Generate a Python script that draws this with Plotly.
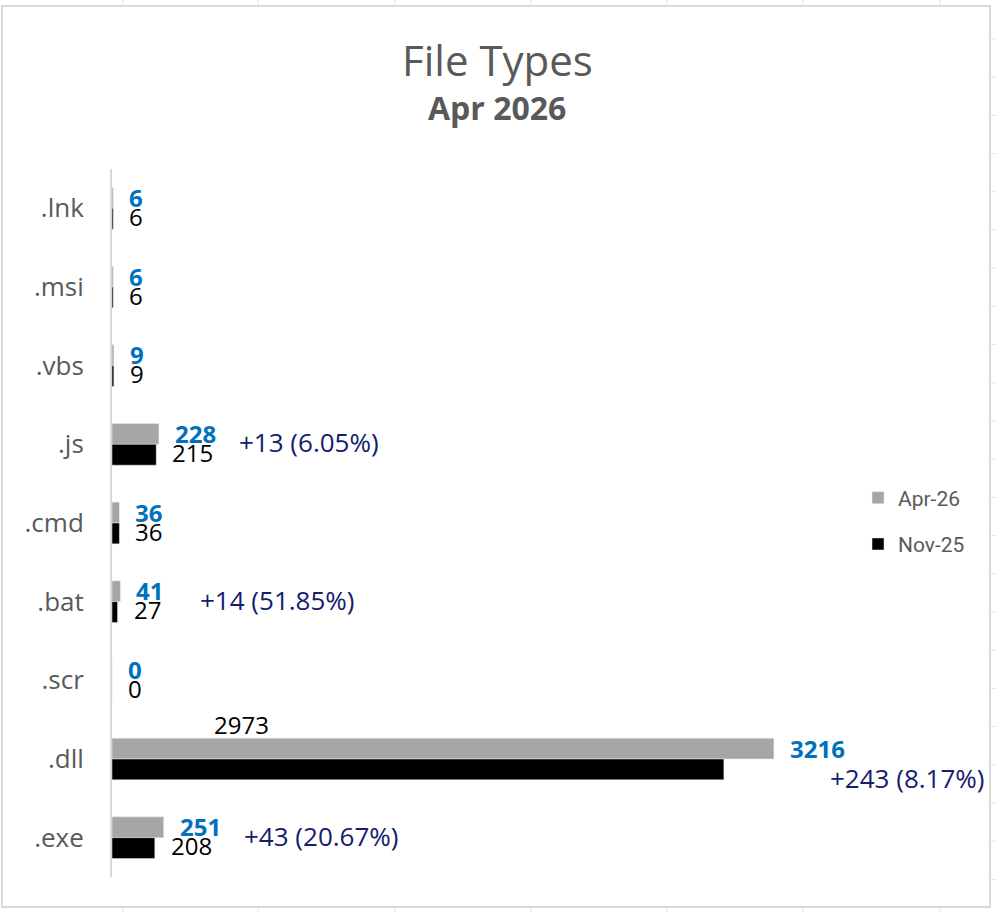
import plotly.graph_objects as go

# data, read top to bottom as in the chart
file_types = ['.lnk', '.msi', '.vbs', '.js', '.cmd', '.bat', '.scr', '.dll', '.exe']
apr_26 = [6, 6, 9, 228, 36, 41, 0, 3216, 251]
nov_25 = [6, 6, 9, 215, 36, 27, 0, 2973, 208]
series_names = ['Apr-26', 'Nov-25']

W, H = 996, 912
L, R, T, B = 112, 6, 169, 35
X_MAX = 4266  # axis max, so that the plot area reaches the chart's right edge

FONT = '"Open Sans", "Segoe UI", sans-serif'
GREY_TXT = '#595959'
BLUE = '#0070C0'
NAVY = '#14206E'


def px_x(px):
    return (px - L) / (W - L - R)


def px_y(py):
    return (H - B - py) / (H - T - B)


fig = go.Figure()
fig.add_trace(go.Bar(y=file_types, x=apr_26, orientation='h', name=series_names[0],
                     marker_color='#A6A6A6', legendgroup='a'))
fig.add_trace(go.Bar(y=file_types, x=nov_25, orientation='h', name=series_names[1],
                     marker_color='#000000', legendgroup='b'))

ann = []
# value labels
nov_moved = {'.dll': (100, 35)}  # excel label dragged above the bars
for cat, a, n in zip(file_types, apr_26, nov_25):
    ann.append(dict(x=a, y=cat, xref='x', yref='y', text='<b>%d</b>' % a, showarrow=False,
                    xanchor='left', yanchor='middle', xshift=14, yshift=11,
                    font=dict(family=FONT, size=24, color=BLUE)))
    if cat in nov_moved:
        xs, ys = nov_moved[cat]
        ann.append(dict(x=0, y=cat, xref='x', yref='y', text=str(n), showarrow=False,
                        xanchor='left', yanchor='middle', xshift=xs, yshift=ys,
                        font=dict(family=FONT, size=24, color='black')))
    else:
        ann.append(dict(x=n, y=cat, xref='x', yref='y', text=str(n), showarrow=False,
                        xanchor='left', yanchor='middle', xshift=14, yshift=-8,
                        font=dict(family=FONT, size=24, color='black')))
    # change labels
    d = a - n
    if d != 0:
        txt = '+%d (%.2f%%)' % (d, d / n * 100)
        xs, ys = (54, -19) if cat == '.dll' else (78, 2)
        ann.append(dict(x=a, y=cat, xref='x', yref='y', text=txt, showarrow=False,
                        xanchor='left', yanchor='middle', xshift=xs, yshift=ys,
                        font=dict(family=FONT, size=26, color=NAVY)))

# titles
ann.append(dict(x=px_x(497), y=px_y(60), xref='paper', yref='paper', text='File Types',
                showarrow=False, xanchor='center', yanchor='middle',
                font=dict(family=FONT, size=42, color=GREY_TXT)))
ann.append(dict(x=px_x(497), y=px_y(108), xref='paper', yref='paper', text='<b>Apr 2026</b>',
                showarrow=False, xanchor='center', yanchor='middle',
                font=dict(family=FONT, size=32, color=GREY_TXT)))

# chart border + sheet gridlines peeking out around it
shapes = [dict(type='rect', xref='paper', yref='paper',
               x0=px_x(2), x1=px_x(990), y0=px_y(907), y1=px_y(6),
               line=dict(color='#D9D9D9', width=2), layer='below')]
for gx in [123, 258, 395, 531, 667, 803, 940]:
    for y0, y1 in [(0, 5), (908, 912)]:
        shapes.append(dict(type='line', xref='paper', yref='paper',
                           x0=px_x(gx), x1=px_x(gx), y0=px_y(y0), y1=px_y(y1),
                           line=dict(color='#E3E3E3', width=1)))
gy = 39.0
while gy < 912:
    shapes.append(dict(type='line', xref='paper', yref='paper',
                       x0=px_x(991), x1=px_x(996), y0=px_y(gy), y1=px_y(gy),
                       line=dict(color='#E3E3E3', width=1)))
    gy += 38.2

fig.update_layout(
    width=W, height=H,
    margin=dict(l=L, r=R, t=T, b=B, autoexpand=False),
    paper_bgcolor='white', plot_bgcolor='white',
    barmode='group', bargap=0.47, bargroupgap=0,
    showlegend=True,
    legend=dict(x=px_x(858), y=px_y(521),
                xanchor='left', yanchor='middle', traceorder='grouped',
                tracegroupgap=16, bgcolor='rgba(0,0,0,0)',
                font=dict(family='"Liberation Sans Narrow", "Arial Narrow", Roboto, sans-serif',
                          size=21, color=GREY_TXT)),
    annotations=ann,
    shapes=shapes,
)
fig.update_xaxes(range=[0, X_MAX], showgrid=False, zeroline=False, showticklabels=False,
                 showline=False, ticks='')
fig.update_yaxes(type='category', autorange='reversed', showgrid=False, zeroline=False,
                 showline=True, linecolor='#D9D9D9', linewidth=2, ticks='',
                 ticklabelstandoff=21,
                 tickfont=dict(family=FONT, size=26, color=GREY_TXT))

fig.write_html("out.html", config={'displayModeBar': False},
               post_script="document.body.style.margin='0px';")
